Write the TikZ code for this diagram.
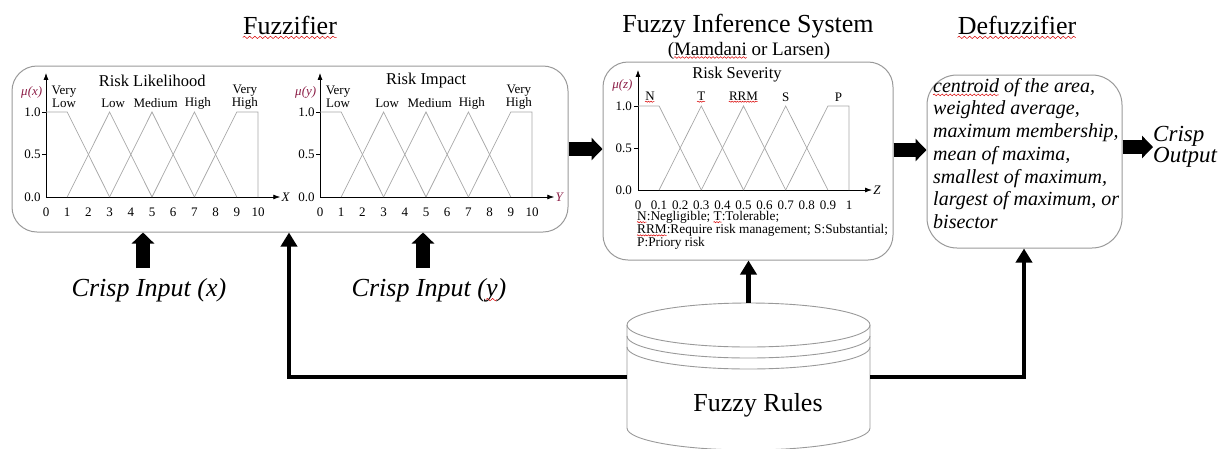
\documentclass[tikz,border=0pt]{standalone}
\usepackage{fontspec}
\setmainfont{Liberation Serif}
\usetikzlibrary{arrows.meta,decorations.pathmorphing}
% red wavy spell-check underline under a word
\newsavebox\spellbox
\newcommand\spellmark[1]{\sbox\spellbox{#1}\usebox\spellbox\llap{\tikz[baseline=0pt]\draw[red!85!black,line width=0.5pt,decorate,decoration={snake,amplitude=0.045em,segment length=0.2em}] (0pt,-0.13em) -- (\the\wd\spellbox,-0.13em);}}
\definecolor{mulab}{rgb}{0.55,0.12,0.28}

\begin{document}
\begin{tikzpicture}[x=1pt,y=-1pt,
  ttl/.style={font=\fontsize{26}{30}\selectfont, inner sep=0pt},
  subttl/.style={font=\fontsize{19}{22}\selectfont, inner sep=0pt},
  box/.style={draw=gray!80, line width=1pt, rounded corners=25pt, inner sep=0pt},
  fat/.style={line width=14pt, -{Triangle[length=11pt,width=22pt]}},
  link/.style={line width=4.5pt, line join=miter, -{Triangle[length=14pt,width=16pt]}},
  chartaxis/.style={line width=0.8pt, -{Latex[length=7pt,width=5pt]}},
  tickmark/.style={line width=0.6pt},
  mf/.style={draw=gray!70, line width=0.7pt},
  small/.style={font=\fontsize{13}{13}\selectfont, inner sep=0pt, align=center},
  charttitle/.style={font=\fontsize{16.5}{18}\selectfont, inner sep=0pt},
  mulabel/.style={font=\itshape\fontsize{13}{13}\selectfont, text=mulab, inner sep=0pt, anchor=east},
  legend/.style={font=\fontsize{13.3}{13.2}\selectfont, inner sep=0pt, align=left},
  deftext/.style={font=\itshape\fontsize{20}{22.7}\selectfont, inner sep=0pt, align=left},
  crisp/.style={font=\itshape\fontsize{26}{30}\selectfont, inner sep=0pt},
  outtext/.style={font=\itshape\fontsize{23}{21}\selectfont, inner sep=0pt, align=left},
  cyl/.style={draw=gray!80, line width=0.9pt},
  rulestext/.style={font=\fontsize{26}{30}\selectfont, inner sep=0pt}]
\useasboundingbox (0,0) rectangle (1228,448);

% ---- section titles
\node[ttl,anchor=base] (tfuzz) at (290,34) {\spellmark{Fuzzifier}};
\node[ttl,anchor=base] (tfis) at (748,32) {Fuzzy Inference System};
\node[subttl,anchor=base] (tfis2) at (749,55) {(\spellmark{Mamdani} or Larsen)};
\node[ttl,anchor=base] (tdefz) at (1017,34) {\spellmark{Defuzzifier}};

% ---- stage boxes
\node[box, minimum width=556pt, minimum height=166pt] (fuzz) at (290,149) {};
\node[box, minimum width=290pt, minimum height=198pt] (fis) at (748,161) {};
\node[box, rounded corners=30pt, minimum width=195pt, minimum height=173pt] (defz) at (1024.5,161.5) {};

% ---- input membership functions (likelihood, impact)
\foreach \cx/\nm/\ttl/\var/\AX/\axc in {46/a/{Risk Likelihood}/x/X/black, 320/b/{Risk Impact}/y/Y/mulab} {
  \begin{scope}[shift={(\cx,197)},x=21.2pt,y=85pt]
    \draw[chartaxis] (0,0) -- (11.05,0);
    \draw[chartaxis] (0,0) -- (0,1.46);
    \foreach \v in {0.5,1} \draw[tickmark] (-0.17,\v) -- (0,\v);
    \foreach \v/\t/\k in {0/0.0/0, 0.5/0.5/1, 1/1.0/2}
      \node[small,anchor=east] (\nm y\k) at (-0.24,\v) {\t};
    \foreach \i in {0,...,10}
      \node[small] (\nm x\i) at (\i,-0.18) {\i};
    \node[small,font=\itshape\fontsize{13}{13}\selectfont,text=\axc,anchor=west] (\nm ax) at (11.1,0) {\AX};
    \node[mulabel] (\nm mu) at (-0.17,1.235) {μ(\var)};
    \draw[mf] (0,1) -- (1,1) -- (3,0);
    \draw[mf] (1,0) -- (3,1) -- (5,0);
    \draw[mf] (3,0) -- (5,1) -- (7,0);
    \draw[mf] (5,0) -- (7,1) -- (9,0);
    \draw[mf] (7,0) -- (9,1) -- (10,1) -- (10,0);
    \node[charttitle] (\nm t) at (5.01,1.365) {\ttl};
    \node[small] (\nm vl) at (0.85,1.18) {Very\\Low};
    \node[small] (\nm l) at (3.17,1.106) {Low};
    \node[small] (\nm m) at (5.17,1.106) {Medium};
    \node[small] (\nm h) at (7.16,1.106) {High};
    \node[small] (\nm vh) at (9.38,1.18) {Very\\High};
  \end{scope}
}

% ---- output membership functions (severity)
\begin{scope}[shift={(638,190)},x=211pt,y=84pt]
  \draw[chartaxis] (0,0) -- (1.109,0);
  \draw[chartaxis] (0,0) -- (0,1.43);
  \foreach \v in {0.5,1} \draw[tickmark] (-0.02,\v) -- (0,\v);
  \foreach \v/\t/\k in {0/0.0/0, 0.5/0.5/1, 1/1.0/2}
    \node[small,anchor=east] (cy\k) at (-0.028,\v) {\t};
  \foreach \i/\t in {0/0,1/0.1,2/0.2,3/0.3,4/0.4,5/0.5,6/0.6,7/0.7,8/0.8,9/0.9,10/1}
    \node[small] (cx\i) at (\i/10,-0.18) {\t};
  \node[small,font=\itshape\fontsize{13}{13}\selectfont,anchor=west] (cax) at (1.115,0) {Z};
  \node[mulabel] (cmu) at (-0.025,1.25) {μ(z)};
  \draw[mf] (0,1) -- (0.1,1) -- (0.3,0);
  \draw[mf] (0.1,0) -- (0.3,1) -- (0.5,0);
  \draw[mf] (0.3,0) -- (0.5,1) -- (0.7,0);
  \draw[mf] (0.5,0) -- (0.7,1) -- (0.9,0);
  \draw[mf] (0.7,0) -- (0.9,1) -- (1,1) -- (1,0);
  \node[charttitle] (ct) at (0.469,1.37) {Risk Severity};
  \node[small] (cn) at (0.057,1.107) {\spellmark{N}};
  \node[small] (ctl) at (0.3,1.107) {\spellmark{T}};
  \node[small] (crrm) at (0.5,1.107) {\spellmark{RRM}};
  \node[small] (cs) at (0.7,1.107) {S};
  \node[small] (cp) at (0.95,1.107) {P};
\end{scope}
\node[legend,anchor=north west] (leg) at (637,211)
  {\spellmark{N}:Negligible; \spellmark{T}:Tolerable;\\
   \spellmark{RRM}:Require risk management; S:Substantial;\\
   P:Priory risk};

% ---- defuzzification methods
\node[deftext,anchor=north west] (dtext) at (933,78)
  {\spellmark{centroid} of the area,\\
   weighted average,\\
   maximum membership,\\
   mean of maxima,\\
   smallest of maximum,\\
   largest of maximum, or\\
   bisector};

% ---- crisp inputs and output
\node[crisp] (inx) at (149,290) {Crisp Input (x)};
\node[crisp] (iny) at (429,290) {Crisp Input (\spellmark{y})};
\coordinate (inxtop) at (143,268);
\coordinate (inytop) at (423,268);
\draw[fat] (inxtop) -- (inxtop |- fuzz.south);
\draw[fat] (inytop) -- (inytop |- fuzz.south);
\node[outtext,anchor=west] (out) at (1153,147) {Crisp\\Output};

% ---- stage-to-stage block arrows
\coordinate (row) at (0,150);
\draw[fat] (fuzz.east) -- (fuzz.east -| fis.west);
\draw[fat] (fis.east |- row) -- (defz.west |- row);
\draw[fat] (defz.east |- out.west) -- (out.west);

% ---- rule base cylinder
\draw[cyl] (748.5,325) ellipse [x radius=121.5pt, y radius=22pt];
\draw[cyl] (627,336) arc[start angle=180, end angle=360, x radius=121.5pt, y radius=22pt];
\draw[cyl] (627,347) arc[start angle=180, end angle=360, x radius=121.5pt, y radius=22pt];
\draw[cyl] (627,325) -- (627,428) arc[start angle=180, end angle=360, x radius=121.5pt, y radius=22pt] -- (870,325);
\node[rulestext] (rules) at (758,405) {Fuzzy Rules};
\coordinate (cylL) at (627,377);
\coordinate (cylR) at (870,377);
\coordinate (cylT) at (748.5,303);
\coordinate (fbx) at (289,377);
\coordinate (dfx) at (1024,377);

% ---- rule base feeds all three stages
\draw[link] (cylL) -| (fbx |- fuzz.south);
\draw[link] (cylT) -- (cylT |- fis.south);
\draw[link] (cylR) -| (dfx |- defz.south);
\end{tikzpicture}
\end{document}
